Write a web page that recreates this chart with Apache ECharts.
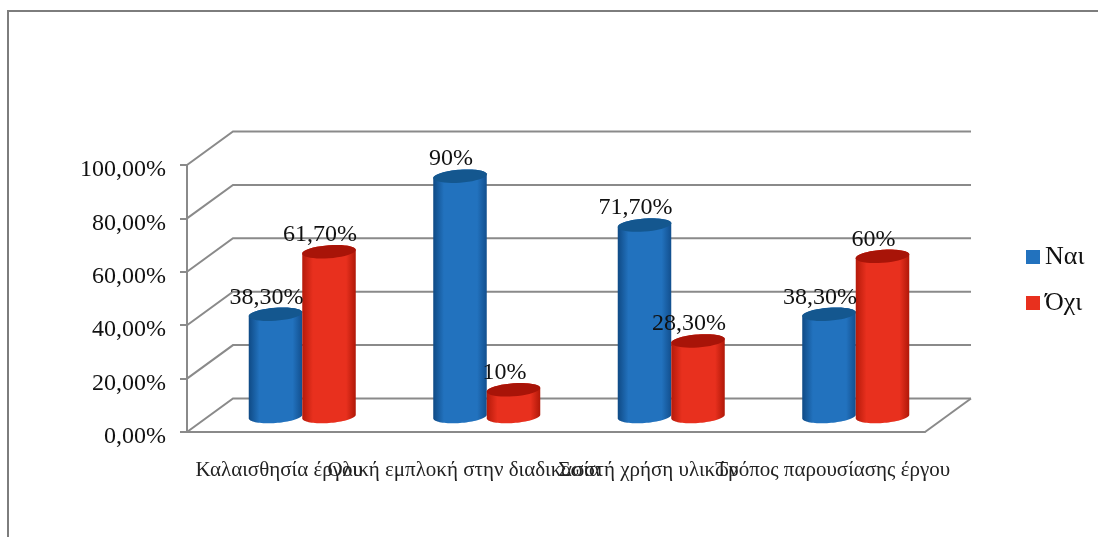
<!DOCTYPE html>
<html>
<head>
<meta charset="utf-8">
<style>
  html, body { margin: 0; padding: 0; background: #fff; }
  #chart { width: 1098px; height: 537px; }
</style>
<script src="https://cdn.jsdelivr.net/npm/echarts@6/dist/echarts.min.js"></script>
</head>
<body>
<div id="chart"></div>
<script>
const categories = ['Καλαισθησία έργου', 'Ολική εμπλοκή στην διαδικασία', 'Σωστή χρήση υλικών', 'Τρόπος παρουσίασης έργου'];
const yesValues = [38.3, 90, 71.7, 38.3];
const noValues = [61.7, 10, 28.3, 60];
const gridTicks = [0, 20, 40, 60, 80, 100];

const FONT = '"Liberation Serif", serif';
const GREY = '#8a8a8a';
// Perspective offsets of the back wall and of the bars' centre line
const WALL_DX = 46, WALL_DY = 33.5;
const BAR_DX = 23, BAR_DY = 15.5;
const BAR_SHARE = 0.29;
const ELLIPSE_RY = 6.5, ELLIPSE_TILT = 0.07;

const pct = v => v.toFixed(2).replace('.', ',') + '%';
const dataLabel = v => Number.isInteger(v) ? v + '%' : pct(v);

// Sheared ellipse arc: the vertical sides of the cylinder stay vertical
function arc(cx, cy, rx, from, to) {
  const pts = [];
  for (let i = 0; i <= 40; i++) {
    const t = from + (to - from) * i / 40;
    pts.push([cx + rx * Math.cos(t), cy + ELLIPSE_RY * Math.sin(t) - ELLIPSE_TILT * rx * Math.cos(t)]);
  }
  return pts;
}

function cylinderRenderer(seriesSlot, bodyStops, capColor) {
  const bodyFill = new echarts.graphic.LinearGradient(0, 0, 1, 0, bodyStops);
  return function (params, api) {
    const base = api.coord([api.value(0), 0]);
    const top = api.coord([api.value(0), api.value(1)]);
    const band = api.size([1, 0])[0];
    const w = band * BAR_SHARE;
    const rx = w / 2;
    const cx = base[0] + BAR_DX + seriesSlot * rx;
    const y0 = base[1] - BAR_DY;
    const y1 = top[1] - BAR_DY;
    const outline = arc(cx, y0, rx, 0, Math.PI).concat(arc(cx, y1, rx, Math.PI, 2 * Math.PI));
    return {
      type: 'group',
      children: [
        { type: 'polygon', shape: { points: outline }, style: { fill: bodyFill } },
        { type: 'polygon', shape: { points: arc(cx, y1, rx, 0, 2 * Math.PI) }, style: { fill: capColor } }
      ]
    };
  };
}

function labelRenderer(seriesSlot) {
  return function (params, api) {
    const top = api.coord([api.value(0), api.value(1)]);
    const rx = api.size([1, 0])[0] * BAR_SHARE / 2;
    return {
      type: 'text',
      style: {
        x: top[0] + BAR_DX + seriesSlot * rx - 9,
        y: top[1] - BAR_DY - 17,
        text: dataLabel(api.value(1)),
        font: '24px ' + FONT,
        fill: '#111',
        align: 'center',
        verticalAlign: 'middle'
      }
    };
  };
}

// Gridlines run along the floor/side wall and then across the back wall
function wallRenderer(params, api) {
  const cs = params.coordSys;
  const y = api.coord([api.value(0), api.value(1)])[1];
  return {
    type: 'polyline',
    shape: { points: [[cs.x, y], [cs.x + WALL_DX, y - WALL_DY], [cs.x + cs.width + WALL_DX, y - WALL_DY]] },
    style: { fill: 'none', stroke: GREY, lineWidth: 2 }
  };
}

function floorEdgeRenderer(params, api) {
  const cs = params.coordSys;
  const y = api.coord([api.value(0), api.value(1)])[1];
  return {
    type: 'line',
    shape: { x1: cs.x + cs.width, y1: y, x2: cs.x + cs.width + WALL_DX, y2: y - WALL_DY },
    style: { stroke: GREY, lineWidth: 2 }
  };
}

const asPairs = values => values.map((v, i) => [categories[i], v]);

const chart = echarts.init(document.getElementById('chart'));
chart.setOption({
  animation: false,
  backgroundColor: '#fff',
  graphic: [{
    type: 'polyline',
    silent: true,
    shape: { points: [[8, 537], [8, 11], [1098, 11]] },
    style: { fill: 'none', stroke: '#7d7d7d', lineWidth: 2 }
  }],
  legend: {
    orient: 'vertical',
    left: 1021,
    top: 239,
    icon: 'rect',
    itemWidth: 14,
    itemHeight: 14,
    itemGap: 20,
    data: ['Ναι', 'Όχι'],
    textStyle: { fontFamily: FONT, fontSize: 26, color: '#111' },
    selectedMode: false,
    formatter: n => n
  },
  grid: { left: 187, top: 165, width: 738, height: 267 },
  xAxis: {
    type: 'category',
    data: categories,
    axisLine: { lineStyle: { color: GREY, width: 2 } },
    axisTick: { length: 6, lineStyle: { color: GREY, width: 2 }, alignWithLabel: false },
    axisLabel: { interval: 0, margin: 28, fontFamily: FONT, fontSize: 21, color: '#222', hideOverlap: false },
    splitLine: { show: false }
  },
  yAxis: {
    type: 'value',
    min: 0,
    max: 100,
    interval: 20,
    axisLine: { show: true, lineStyle: { color: GREY, width: 2 } },
    axisTick: { show: true, length: 7, lineStyle: { color: GREY, width: 2 } },
    axisLabel: {
      margin: 21,
      formatter: v => '{tick|' + pct(v) + '}',
      rich: { tick: { fontFamily: FONT, fontSize: 24, color: '#111', padding: [10, 0, 0, 0] } }
    },
    splitLine: { show: false }
  },
  series: [
    { type: 'custom', name: 'walls', z: 1, silent: true, encode: { x: 0, y: 1 },
      data: gridTicks.map(v => [categories[0], v]), renderItem: wallRenderer },
    { type: 'custom', name: 'floorEdge', z: 1, silent: true, encode: { x: 0, y: 1 },
      data: [[categories[0], gridTicks[0]]], renderItem: floorEdgeRenderer },
    { type: 'custom', name: 'Ναι', z: 3, itemStyle: { color: '#2272be' }, encode: { x: 0, y: 1 },
      data: asPairs(yesValues),
      renderItem: cylinderRenderer(-1, [
        { offset: 0, color: '#0f4a85' }, { offset: 0.2, color: '#2272be' },
        { offset: 0.82, color: '#2272be' }, { offset: 1, color: '#124f8e' }
      ], '#14578f') },
    { type: 'custom', name: 'Όχι', z: 3, itemStyle: { color: '#e8301e' }, encode: { x: 0, y: 1 },
      data: asPairs(noValues),
      renderItem: cylinderRenderer(1, [
        { offset: 0, color: '#b51a0a' }, { offset: 0.2, color: '#e8301e' },
        { offset: 0.82, color: '#e8301e' }, { offset: 1, color: '#b01808' }
      ], '#a81408') },
    { type: 'custom', name: 'yesLabels', z: 5, silent: true, encode: { x: 0, y: 1 },
      data: asPairs(yesValues), renderItem: labelRenderer(-1) },
    { type: 'custom', name: 'noLabels', z: 5, silent: true, encode: { x: 0, y: 1 },
      data: asPairs(noValues), renderItem: labelRenderer(1) }
  ]
});
</script>
</body>
</html>
